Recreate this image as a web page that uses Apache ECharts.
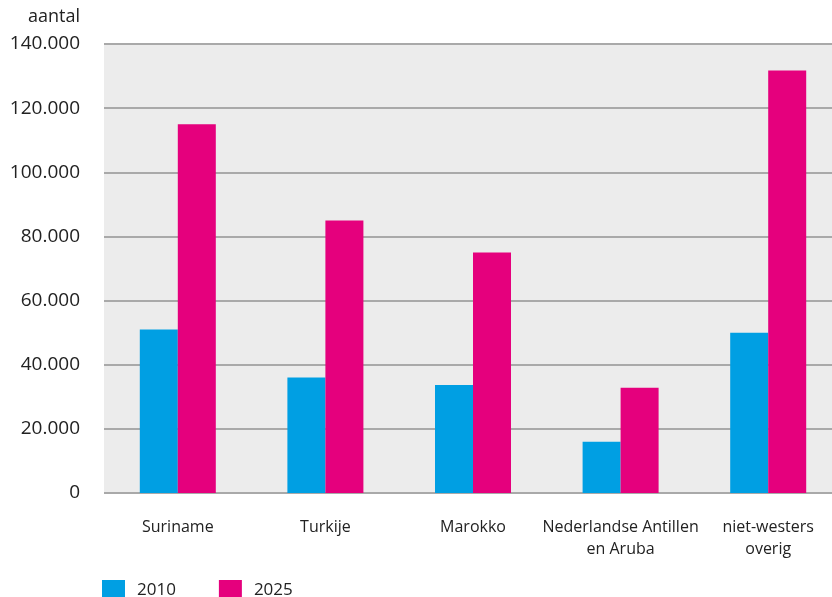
<!DOCTYPE html>
<html>
<head>
<meta charset="utf-8">
<script src="https://cdn.jsdelivr.net/npm/echarts@6/dist/echarts.min.js"></script>
<style>
  html, body { margin: 0; padding: 0; background: #fff; }
  #chart { width: 832px; height: 597px; }
</style>
</head>
<body>
<div id="chart"></div>
<script>
  // herkomstgroepen
  var categories = ['Suriname', 'Turkije', 'Marokko', 'Nederlandse Antillen\nen Aruba', 'niet-westers\noverig'];
  var values2010 = [51000, 36000, 33700, 16000, 50000];
  var values2025 = [115000, 85000, 75000, 32800, 131700];
  var yTicks = [0, 20000, 40000, 60000, 80000, 100000, 120000, 140000];

  var font = 'Open Sans';
  var myChart = echarts.init(document.getElementById('chart'));

  var option = {
    animation: false,
    textStyle: { fontFamily: font, color: '#222' },
    color: ['#009fe3', '#e5007d'],
    legend: {
      left: 97,
      top: 575,
      itemWidth: 23,
      itemHeight: 21,
      itemGap: 43,
      icon: 'rect',
      textStyle: { fontFamily: font, fontSize: 17, color: '#222', padding: [0, 0, 0, 7] },
      data: ['2010', '2025']
    },
    grid: {
      left: 104,
      width: 738,
      top: 44,
      bottom: 104,
      outerBoundsMode: 'none',
      show: true,
      backgroundColor: '#ececec',
      borderWidth: 0
    },
    xAxis: {
      type: 'category',
      data: categories,
      axisLine: { show: false },
      axisTick: { show: false },
      axisLabel: {
        fontFamily: font,
        fontSize: 16,
        color: '#222',
        margin: 23,
        lineHeight: 22,
        interval: 0
      }
    },
    yAxis: {
      type: 'value',
      min: yTicks[0],
      max: yTicks[yTicks.length - 1],
      interval: 20000,
      name: 'aantal',
      nameLocation: 'end',
      nameGap: 18,
      nameTextStyle: { fontFamily: font, fontSize: 18, color: '#222', align: 'right', padding: [0, 24, 0, 0] },
      axisLine: { show: false },
      axisTick: { show: false },
      axisLabel: {
        fontFamily: font,
        fontSize: 19,
        color: '#222',
        margin: 24,
        formatter: function (v) {
          return v.toString().replace(/\B(?=(\d{3})+(?!\d))/g, '.');
        }
      },
      splitLine: { show: true, lineStyle: { color: '#a9a9a9', width: 2 } }
    },
    series: [
      {
        name: '2010',
        type: 'bar',
        data: values2010,
        barWidth: 38,
        barGap: '0%'
      },
      {
        name: '2025',
        type: 'bar',
        data: values2025,
        barWidth: 38,
        barGap: '0%'
      }
    ]
  };

  myChart.setOption(option);
</script>
</body>
</html>
